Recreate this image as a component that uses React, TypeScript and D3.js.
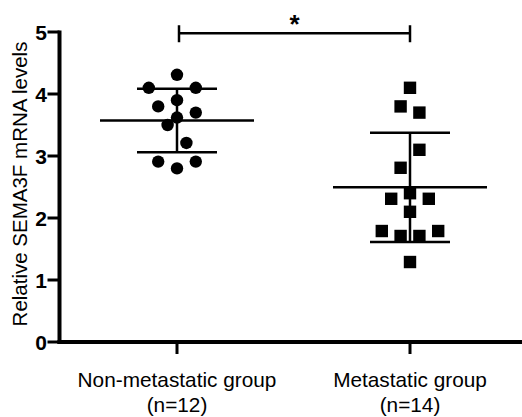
import React from "react";
import * as d3 from "d3";

const groups = ["Non-metastatic group", "Metastatic group"];
const groupN = ["(n=12)", "(n=14)"];
const nonMetValues = [4.31, 4.1, 4.1, 3.9, 3.8, 3.7, 3.62, 3.5, 3.21, 2.91, 2.91, 2.8];
const nonMetCols = [0, -3, 2, 0, -2, 2, 0, -1, 1, -2, 2, 0];
const metValues = [4.1, 3.8, 3.7, 3.1, 2.81, 2.4, 2.31, 2.31, 2.1, 1.79, 1.79, 1.71, 1.71, 1.29];
const metCols = [0, -1, 1, 1, -1, 0, -2, 2, 0, -3, 3, -1, 1, 0];
const yTicks = [0, 1, 2, 3, 4, 5];
const yLabel = "Relative SEMA3F mRNA levels";
const sigLabel = "*";
const sigValue = 4.98;

const W = 522;
const H = 417;
const FONT = "'Liberation Sans', Arial, Helvetica, sans-serif";

export default function App() {
  const y = d3.scaleLinear().domain([0, 5]).range([342, 32]);
  const x = d3.scalePoint<string>().domain(groups).range([177, 410]);
  const colStep = 9.4;
  const axisX = 59.5;
  const series = [
    { values: nonMetValues, cols: nonMetCols, shape: "circle" },
    { values: metValues, cols: metCols, shape: "square" },
  ];
  return (
    <svg
      width={W}
      height={H}
      style={{ position: "absolute", left: 0, top: 0, background: "#fff" }}
      fontFamily={FONT}
    >
      <rect x={0} y={0} width={W} height={H} fill="#fff" />
      {/* y axis */}
      <line x1={axisX} x2={axisX} y1={y(5) - 1.5} y2={y(0) + 2} stroke="#000" strokeWidth={4} />
      {yTicks.map((t) => (
        <g key={t}>
          <line x1={axisX - 12} x2={axisX} y1={y(t)} y2={y(t)} stroke="#000" strokeWidth={3} />
          <text
            x={axisX - 12.5}
            y={y(t)}
            dy="0.36em"
            textAnchor="end"
            fontSize={21}
            fontWeight="bold"
          >
            {t}
          </text>
        </g>
      ))}
      {/* x axis */}
      <line x1={axisX - 2} x2={W} y1={y(0)} y2={y(0)} stroke="#000" strokeWidth={4} />
      {groups.map((g, i) => (
        <g key={g}>
          <line x1={x(g)} x2={x(g)} y1={y(0)} y2={y(0) + 12} stroke="#000" strokeWidth={3} />
          <text x={x(g)} y={387} textAnchor="middle" fontSize={20.8}>
            {g}
          </text>
          <text x={x(g)} y={412} textAnchor="middle" fontSize={20.8}>
            {groupN[i]}
          </text>
        </g>
      ))}
      {/* y label */}
      <text
        transform={`translate(26.5,${184}) rotate(-90)`}
        textAnchor="middle"
        fontSize={20.5}
      >
        {yLabel}
      </text>
      {/* data */}
      {series.map((s, i) => {
        const cx = x(groups[i]) as number;
        const mean = d3.mean(s.values) as number;
        const sd = d3.deviation(s.values) as number;
        return (
          <g key={i}>
            {s.values.map((v, j) =>
              s.shape === "circle" ? (
                <circle key={j} cx={cx + s.cols[j] * colStep} cy={y(v)} r={6.2} fill="#000" />
              ) : (
                <rect
                  key={j}
                  x={cx + s.cols[j] * colStep - 6.2}
                  y={y(v) - 6.2}
                  width={12.4}
                  height={12.4}
                  fill="#000"
                />
              )
            )}
            <line x1={cx} x2={cx} y1={y(mean + sd)} y2={y(mean - sd)} stroke="#000" strokeWidth={2.5} />
            <line x1={cx - 77} x2={cx + 77} y1={y(mean)} y2={y(mean)} stroke="#000" strokeWidth={2.5} />
            <line x1={cx - 40} x2={cx + 40} y1={y(mean + sd)} y2={y(mean + sd)} stroke="#000" strokeWidth={2.5} />
            <line x1={cx - 40} x2={cx + 40} y1={y(mean - sd)} y2={y(mean - sd)} stroke="#000" strokeWidth={2.5} />
          </g>
        );
      })}
      {/* significance bar */}
      {(() => {
        const x1 = (x(groups[0]) as number) + 2;
        const x2 = x(groups[1]) as number;
        const yy = y(sigValue);
        return (
          <g>
            <line x1={x1} x2={x2} y1={yy} y2={yy} stroke="#000" strokeWidth={2.5} />
            <line x1={x1} x2={x1} y1={yy - 8} y2={yy + 9} stroke="#000" strokeWidth={2.5} />
            <line x1={x2} x2={x2} y1={yy - 8} y2={yy + 9} stroke="#000" strokeWidth={2.5} />
            <text x={(x1 + x2) / 2} y={yy + 0} textAnchor="middle" fontSize={26} fontWeight="bold">
              {sigLabel}
            </text>
          </g>
        );
      })()}
    </svg>
  );
}
